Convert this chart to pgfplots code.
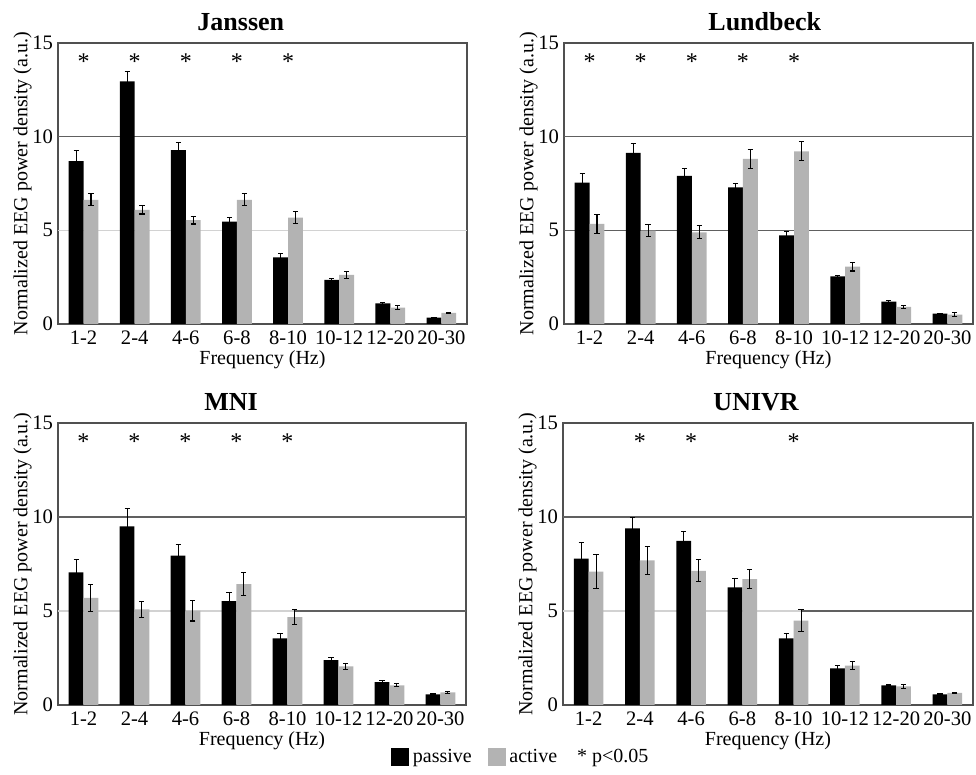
\documentclass[border=0pt]{standalone}
\usepackage{fontspec}
\setmainfont{Liberation Serif}
\usepackage{pgfplots}
\usepackage{pgfplotstable}
\pgfplotsset{compat=1.18}
\definecolor{actgray}{HTML}{B3B3B3}
\definecolor{frame}{HTML}{505050}
\definecolor{gridd}{HTML}{606060}
\definecolor{gridl}{HTML}{D2D2D2}

\pgfplotstableread{
x pas pase act acte
0 8.69 0.57 6.63 0.32
1 12.95 0.54 6.09 0.22
2 9.28 0.41 5.54 0.20
3 5.47 0.21 6.63 0.32
4 3.56 0.18 5.68 0.32
5 2.35 0.09 2.62 0.18
6 1.10 0.04 0.87 0.10
7 0.34 0.03 0.59 0.03
}\tabJ
\pgfplotstableread{
x pas pase act acte
0 7.55 0.46 5.35 0.50
1 9.13 0.50 4.99 0.32
2 7.91 0.37 4.89 0.35
3 7.29 0.21 8.81 0.50
4 4.73 0.20 9.22 0.50
5 2.54 0.07 3.06 0.23
6 1.19 0.04 0.91 0.10
7 0.55 0.02 0.50 0.09
}\tabL
\pgfplotstableread{
x pas pase act acte
0 7.05 0.71 5.70 0.73
1 9.50 0.97 5.08 0.44
2 7.95 0.59 5.02 0.55
3 5.52 0.46 6.43 0.62
4 3.55 0.25 4.67 0.41
5 2.38 0.16 2.06 0.16
6 1.21 0.07 1.05 0.09
7 0.57 0.03 0.67 0.07
}\tabM
\pgfplotstableread{
x pas pase act acte
0 7.78 0.88 7.10 0.90
1 9.39 0.60 7.69 0.73
2 8.73 0.52 7.14 0.58
3 6.25 0.46 6.69 0.50
4 3.55 0.27 4.49 0.59
5 1.95 0.13 2.09 0.21
6 1.05 0.03 0.99 0.10
7 0.57 0.03 0.64 0.03
}\tabU

\pgfplotsset{
  panel/.style={
    scale only axis,
    anchor=south west,
    width=204.5pt, height=140.5pt,
    xmin=-0.5, xmax=7.5, ymin=0, ymax=15,
    xtick={0,...,7},
    xticklabels={1-2,2-4,4-6,6-8,8-10,10-12,12-20,20-30},
    ytick={0,5,10,15},
    major tick length=0pt,
    axis line style={draw=frame, line width=0.6pt},
    tick label style={font=\fontsize{10.3}{12}\selectfont},
    /pgf/number format/assume math mode=true,
    yticklabel style={xshift=1pt},
    label style={font=\fontsize{10}{12}\selectfont},
    title style={font=\fontsize{13}{15}\selectfont\bfseries, yshift=-3.5pt},
    xlabel={Frequency (Hz)},
    xlabel style={yshift=4pt},
    ylabel={Normalized EEG power density (a.u.)},
    ylabel style={at={(axis description cs:0,0.5)}, anchor=south, inner sep=0pt, yshift=13pt},
  },
  pas/.style={ybar, bar width=0.29, bar shift=0, fill=black, draw=none, forget plot,
    error bars/.cd, y dir=both, y explicit,
    error bar style={black, line width=0.55pt},
    error mark options={rotate=90, mark size=1.3pt, black, line width=0.55pt}},
  act/.style={ybar, bar width=0.29, bar shift=0, fill=actgray, draw=none, forget plot,
    error bars/.cd, y dir=both, y explicit,
    error bar style={black, line width=0.55pt},
    error mark options={rotate=90, mark size=1.3pt, black, line width=0.55pt}},
  star/.style={only marks, mark=text, text mark={\fontsize{12}{14}\selectfont *}, forget plot},
  hl/.style={line width=0.8pt, forget plot},
}

\begin{document}
\begin{tikzpicture}
\useasboundingbox (0,0) rectangle (488pt,387.5pt);

% Janssen
\begin{axis}[panel, at={(29pt,225.5pt)}, title={Janssen}, title style={at={(0.447,1)}}]
\addplot[hl, gridl] coordinates {(-0.5,5) (7.5,5)};
\addplot[hl, gridd] coordinates {(-0.5,10) (7.5,10)};
\addplot[pas] table[x expr=\thisrow{x}-0.145, y=pas, y error=pase] {\tabJ};
\addplot[act] table[x expr=\thisrow{x}+0.145, y=act, y error=acte] {\tabJ};
\addplot[star] coordinates {(0,14.0) (1,14.0) (2,14.0) (3,14.0) (4,14.0)};
\end{axis}

% Lundbeck
\begin{axis}[panel, at={(282pt,225.5pt)}, title={Lundbeck}, title style={at={(0.491,1)}}]
\addplot[hl, gridd] coordinates {(-0.5,5) (7.5,5)};
\addplot[hl, gridd] coordinates {(-0.5,10) (7.5,10)};
\addplot[pas] table[x expr=\thisrow{x}-0.145, y=pas, y error=pase] {\tabL};
\addplot[act] table[x expr=\thisrow{x}+0.145, y=act, y error=acte] {\tabL};
\addplot[star] coordinates {(0,14.0) (1,14.0) (2,14.0) (3,14.0) (4,14.0)};
\end{axis}

% MNI
\begin{axis}[panel, at={(29pt,35pt)}, width=204pt, height=141pt, title={MNI}, title style={at={(0.424,1)}},
  legend style={at={(1.137,-0.184)}, anchor=center, draw=none, fill=none,
    legend columns=3, font=\fontsize{10}{12}\selectfont,
    /tikz/every even column/.append style={column sep=6pt}},
  legend cell align=left]
\addplot[hl, gridl] coordinates {(-0.5,5) (4.15,5)};
\addplot[hl, gridd] coordinates {(4.15,5) (7.5,5)};
\addplot[hl, gridd] coordinates {(-0.5,10) (7.5,10)};
\addplot[pas] table[x expr=\thisrow{x}-0.145, y=pas, y error=pase] {\tabM};
\addplot[act] table[x expr=\thisrow{x}+0.145, y=act, y error=acte] {\tabM};
\addplot[star] coordinates {(0,14.0) (1,14.0) (2,14.0) (3,14.0) (4,14.0)};
\addlegendimage{legend image code/.code={\fill[black] (0pt,-4.2pt) rectangle (8.4pt,4.2pt);}}
\addlegendentry{passive}
\addlegendimage{legend image code/.code={\fill[actgray] (0pt,-4.2pt) rectangle (8.4pt,4.2pt);}}
\addlegendentry{active}
\addlegendimage{empty legend}
\addlegendentry{* p<0.05}
\end{axis}

% UNIVR
\begin{axis}[panel, at={(281.5pt,35pt)}, width=205pt, height=141pt, title={UNIVR}, title style={at={(0.471,1)}}]
\addplot[hl, gridl] coordinates {(-0.5,5) (4.15,5)};
\addplot[hl, gridd] coordinates {(4.15,5) (7.5,5)};
\addplot[hl, gridd] coordinates {(-0.5,10) (7.5,10)};
\addplot[pas] table[x expr=\thisrow{x}-0.145, y=pas, y error=pase] {\tabU};
\addplot[act] table[x expr=\thisrow{x}+0.145, y=act, y error=acte] {\tabU};
\addplot[star] coordinates {(1,14.0) (2,14.0) (4,14.0)};
\end{axis}
\end{tikzpicture}
\end{document}
